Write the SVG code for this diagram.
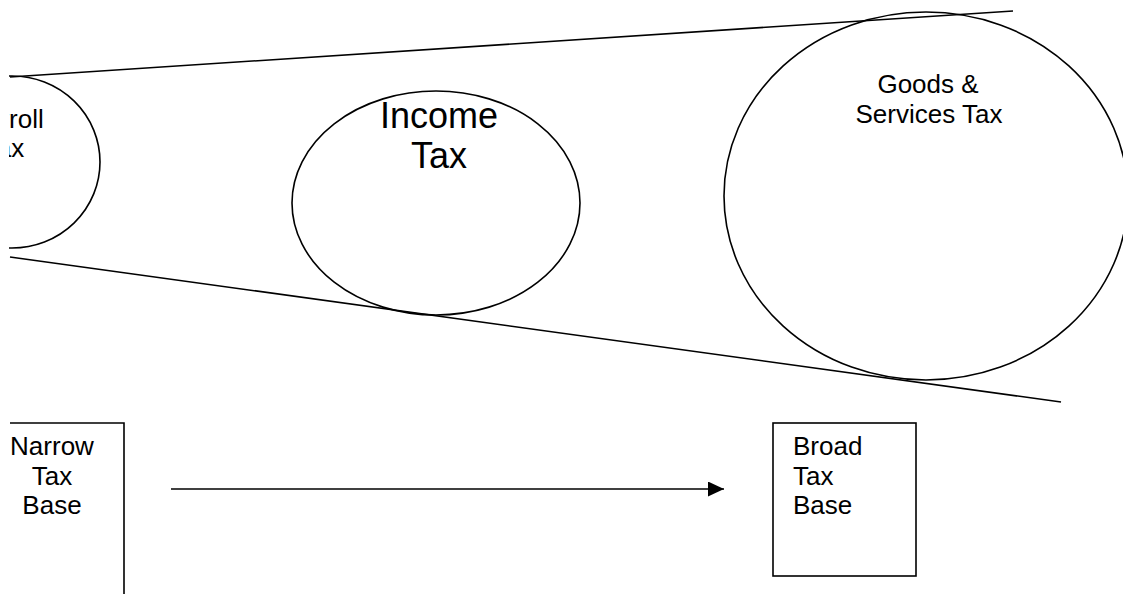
<svg xmlns="http://www.w3.org/2000/svg" width="1123" height="594" viewBox="0 0 1123 594">
<style>
.s{fill:none;stroke:#000;stroke-width:1.6}
.t{font-family:"Liberation Sans",Arial,sans-serif;font-size:26px;fill:#000}
.big{font-size:36px}
</style>
<defs>
<clipPath id="clipL"><rect x="9" y="0" width="200" height="594"/></clipPath>
<marker id="ah" markerWidth="16" markerHeight="15" refX="16" refY="7.5" orient="auto" markerUnits="userSpaceOnUse"><path d="M0,0 L16,7.5 L0,15 Z" fill="#000"/></marker>
</defs>
<rect width="1123" height="594" fill="#fff"/>
<g id="funnel">
<line class="s" x1="10" y1="77" x2="1013" y2="11"/>
<line class="s" x1="10" y1="257" x2="1061" y2="402"/>
</g>
<g id="payroll" clip-path="url(#clipL)">
<ellipse class="s" cx="12" cy="162" rx="88" ry="86"/>
<text class="t" text-anchor="middle" x="4" y="128">Payroll</text>
<text class="t" text-anchor="middle" x="4" y="157">Tax</text>
</g>
<g id="income">
<ellipse class="s" cx="436" cy="203" rx="144" ry="112"/>
<text class="t big" text-anchor="middle" x="439" y="128">Income</text>
<text class="t big" text-anchor="middle" x="439" y="168">Tax</text>
</g>
<g id="gst">
<ellipse class="s" cx="926" cy="196" rx="202" ry="184"/>
<text class="t" text-anchor="middle" x="928" y="93">Goods &amp;</text>
<text class="t" text-anchor="middle" x="929" y="123">Services Tax</text>
</g>
<g id="narrow">
<path class="s" d="M10,423 H124 V594"/>
<text class="t" text-anchor="middle" x="52" y="455">Narrow</text>
<text class="t" text-anchor="middle" x="52" y="485">Tax</text>
<text class="t" text-anchor="middle" x="52" y="514">Base</text>
</g>
<g id="broad">
<rect class="s" x="773" y="423" width="143" height="153"/>
<text class="t" x="793" y="455">Broad</text>
<text class="t" x="793" y="485">Tax</text>
<text class="t" x="793" y="514">Base</text>
</g>
<g id="connectors">
<line class="s" x1="171" y1="489" x2="724" y2="489" marker-end="url(#ah)"/>
</g>
</svg>
